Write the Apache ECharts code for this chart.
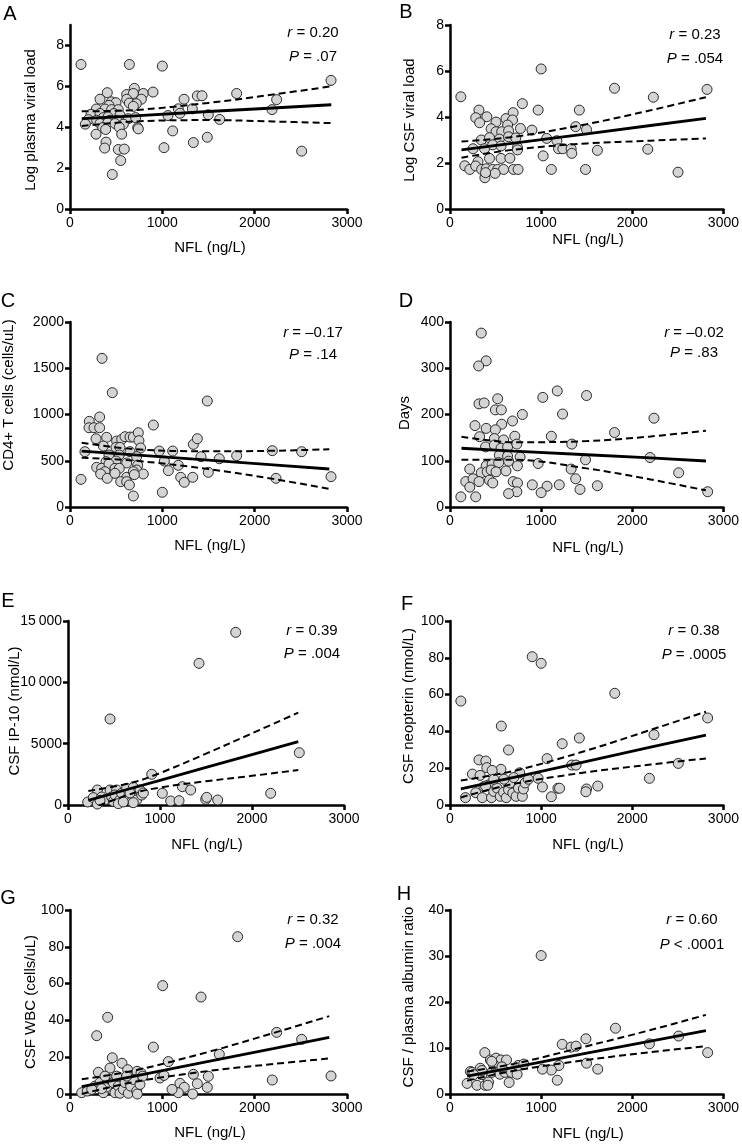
<!DOCTYPE html>
<html><head><meta charset="utf-8">
<script src="https://cdn.jsdelivr.net/npm/echarts@6/dist/echarts.min.js"></script>
<style>html,body{margin:0;padding:0;background:#fff}#c{width:742px;height:1144px}</style>
</head><body><div id="c"></div>
<script>
// ---------- DATA ----------
const nflTicks = [0, 1000, 2000, 3000];

const ptsA = [[119,7.07],[643,7.07],[1000,6.99],[697,5.9],[404,5.69],[614,5.6],[686,5.65],[794,5.65],[899,5.72],[325,5.37],[614,5.37],[773,5.37],[448,5.24],[498,5.2],[643,5.18],[718,5.15],[422,5.07],[686,5.02],[285,4.89],[379,4.89],[451,4.86],[523,4.86],[227,4.63],[325,4.67],[476,4.67],[541,4.59],[361,4.47],[411,4.5],[199,4.37],[289,4.34],[433,4.34],[505,4.34],[632,4.42],[711,4.47],[166,4.15],[325,4.18],[408,4.21],[487,4.18],[578,4.15],[354,3.98],[534,4.0],[733,3.98],[740,3.92],[282,3.66],[386,3.89],[560,3.66],[390,3.27],[375,2.98],[523,2.91],[588,2.93],[549,2.37],[458,1.69],[1018,3.0],[1112,3.82],[1235,5.37],[1173,4.9],[1191,4.68],[1336,3.25],[1325,4.9],[1379,5.53],[1430,5.54],[1487,3.51],[1498,4.61],[1621,4.38],[1805,5.65],[2188,4.86],[2238,5.35],[2509,2.83],[2827,6.29],[1061,4.57]];
const fitXA = [127, 700, 1500, 2200, 2830];
const fitA  = [4.42, 4.56, 4.77, 4.94, 5.1];
const upA   = [4.78, 4.84, 5.19, 5.6, 6.0];
const loA   = [4.06, 4.28, 4.35, 4.28, 4.2];
const yTicksA = [0, 2, 4, 6, 8];

const ptsB = [[1000,6.09],[119,4.88],[1805,5.25],[794,4.58],[318,4.3],[282,3.97],[404,4.01],[325,3.75],[693,4.19],[614,3.93],[686,3.87],[967,4.3],[1419,4.3],[505,3.78],[632,3.65],[451,3.49],[773,3.5],[899,3.43],[505,3.36],[567,3.36],[643,3.4],[1379,3.58],[1498,3.45],[343,3.0],[433,3.1],[541,3.04],[643,3.14],[722,3.09],[1061,3.07],[1173,2.97],[253,2.62],[379,2.62],[469,2.79],[560,2.74],[740,2.68],[740,2.57],[1191,2.62],[1238,2.62],[1329,2.62],[1336,2.42],[1617,2.55],[433,2.2],[560,2.2],[657,2.21],[1022,2.31],[307,2.06],[162,1.88],[217,1.72],[282,1.87],[347,1.72],[397,1.75],[469,1.72],[523,1.72],[588,1.72],[697,1.72],[747,1.72],[1112,1.72],[1487,1.72],[383,1.36],[495,1.55],[390,1.58],[2170,2.6],[2231,4.86],[2502,1.6],[2820,5.2]];
const fitXB = [126, 700, 1500, 2200, 2808];
const fitB  = [2.57, 2.86, 3.27, 3.63, 3.94];
const upB   = [2.93, 3.14, 3.69, 4.29, 4.86];
const loB   = [2.23, 2.58, 2.85, 2.97, 3.07];
const yTicksB = [0, 2, 4, 6, 8];

const ptsC = [[347,1607],[458,1236],[1487,1146],[321,973],[209,926],[206,857],[260,857],[321,857],[903,886],[282,738],[397,753],[505,713],[560,731],[596,760],[650,756],[686,756],[740,803],[747,717],[498,645],[361,659],[765,638],[1336,677],[1379,738],[541,645],[162,598],[650,598],[967,605],[1112,605],[1419,544],[1617,522],[1805,555],[422,562],[534,562],[722,544],[390,490],[498,497],[614,476],[733,451],[1022,497],[1173,451],[289,429],[343,418],[422,465],[487,418],[534,418],[379,382],[722,400],[794,357],[1065,393],[332,357],[404,310],[487,364],[614,321],[686,382],[697,350],[1498,375],[119,299],[549,274],[614,274],[643,238],[686,119],[1000,159],[1199,321],[1238,267],[1329,321],[2191,609],[2231,310],[2509,598],[2827,328]];
const fitXC = [126, 700, 1500, 2200, 2808];
const fitC  = [605, 563, 506, 456, 411];
const upC   = [695, 625, 602, 608, 624];
const loC   = [533, 501, 410, 304, 195];
const yTicksC = [0, 500, 1000, 1500, 2000];

const ptsD = [[343,376],[397,316],[314,305],[318,223],[375,225],[523,234],[498,210],[563,210],[794,200],[1018,237],[1177,251],[1498,241],[1235,201],[274,176],[397,170],[567,179],[686,186],[498,167],[325,152],[487,148],[588,145],[711,153],[1112,153],[1805,161],[390,130],[487,134],[560,127],[632,130],[733,136],[1336,136],[541,112],[632,110],[769,108],[643,99],[397,89],[462,93],[534,96],[740,89],[967,94],[1487,102],[217,82],[343,74],[408,76],[451,80],[505,76],[614,78],[173,55],[253,61],[318,55],[433,58],[469,52],[693,55],[740,52],[217,43],[903,48],[1065,45],[1199,48],[1379,61],[1329,82],[1426,38],[1617,46],[733,33],[643,29],[1000,31],[119,22],[282,22],[2195,107],[2238,192],[2509,74],[2827,33]];
const fitXD = [126, 700, 1500, 2200, 2808];
const fitD  = [127, 121, 113, 106, 99.5];
const upD   = [152, 140, 142.5, 152.5, 165];
const loD   = [102, 102, 83.5, 59.5, 36];
const yTicksD = [0, 100, 200, 300, 400];

const ptsE = [[457,7009],[1424,11549],[1823,14075],[910,2502],[2514,4264],[2203,951],[1243,1494],[1333,1222],[1025,951],[1116,326],[1207,353],[1497,462],[1508,625],[1627,408],[319,1222],[214,245],[275,598],[319,81],[366,652],[402,435],[457,1222],[475,652],[493,299],[529,1222],[511,815],[565,408],[583,951],[638,1358],[656,652],[692,245],[710,1440],[728,951],[746,408],[782,1222],[801,815],[710,190],[547,109],[348,380],[601,245],[674,978],[819,978]];
const fitXE = [221, 700, 1000, 1500, 2000, 2503];
const fitE  = [380, 1384, 2013, 3061, 4109, 5162];
const upE   = [1141, 1830, 2603, 4183, 5841, 7525];
const loE   = [-381, 938, 1423, 1939, 2377, 2850];
const yTicksE = [0, 5000, 10000, 15000];
const yLabelsE = ['0', '5000', '10\u2009000', '15\u2009000'];

const ptsF = [[119,56.5],[902,80.6],[1000,77],[1808,60.7],[2827,47.3],[2238,38.2],[2505,22.6],[2188,14.5],[1419,36.4],[1231,33.3],[1065,25.2],[1336,21.7],[1383,21.7],[967,14.5],[1014,9.8],[1112,4.5],[1184,9.1],[1202,9.1],[1498,8.7],[1491,7.2],[1621,10.3],[563,42.9],[642,29.9],[318,24.5],[393,23.9],[404,20.3],[559,19.4],[246,16.8],[330,16.1],[462,18.8],[765,17.5],[170,4],[282,6.7],[354,4],[372,10],[426,11],[455,4],[480,7.4],[516,9.2],[552,4.7],[588,6.9],[617,4],[642,8.3],[660,12],[689,6.5],[725,4.7],[751,9.2],[794,4.7],[805,8.7],[823,12],[859,14],[700,14.9],[592,14],[480,14],[390,10.3]];
const fitXF = [119, 700, 1500, 2200, 2808];
const fitF  = [8.7, 15.0, 23.7, 31.4, 38];
const upF   = [13.3, 18.5, 29.6, 40.8, 50.7];
const loF   = [4.1, 11.5, 17.8, 22.0, 25.3];
const yTicksF = [0, 20, 40, 60, 80, 100];

const ptsG = [[1816,85.5],[1004,58.9],[1419,52.7],[408,41.7],[289,31.7],[2238,33.5],[2509,29.7],[903,25.5],[1617,21.6],[1065,17.6],[458,19.7],[563,16.7],[2191,7.6],[2827,9.8],[1498,9.6],[1487,3.6],[1336,10.7],[1379,5.6],[1191,5.8],[1238,3.6],[1173,0.7],[1105,2.5],[1329,0],[975,8.7],[1018,10.1],[127,0.7],[307,11.8],[433,14.1],[625,13.2],[726,12.3],[769,11.4],[188,1.6],[271,4.3],[325,6.2],[361,0.7],[397,3.8],[433,7.9],[469,6.2],[487,0.7],[523,4.3],[541,0.4],[578,2.5],[596,6.2],[632,0.4],[657,4.3],[686,7.9],[722,1.6],[729,0],[758,5.2],[787,9.7],[505,9.7],[379,9.7],[235,2.5],[343,2.9],[614,9.7]];
const fitXG = [127, 700, 1500, 2200, 2808];
const fitG  = [4, 9.7, 17.7, 24.7, 30.8];
const upG   = [8, 12.8, 22.9, 33.1, 42.3];
const loG   = [0, 6.6, 12.5, 16.3, 19.3];
const yTicksG = [0, 20, 40, 60, 80, 100];

const ptsH = [[1000,30.1],[1816,14.3],[2509,12.6],[2188,10.9],[2827,9.0],[1491,12.0],[1231,10.8],[1329,10.2],[1383,10.4],[1498,6.7],[1621,5.4],[1195,6.2],[1112,5.2],[1014,5.4],[1177,3.0],[382,9.0],[443,7.4],[505,7.8],[559,7.4],[620,7.4],[188,2.3],[224,4.9],[296,1.9],[332,5.6],[386,1.9],[422,2.6],[415,1.9],[350,4.2],[458,4.7],[512,5.4],[548,4.3],[602,4.7],[649,2.5],[675,4.7],[736,4.3],[747,6.2],[809,6.5],[350,5.1],[476,6.5],[570,5.9],[242,4.7],[260,4.2],[458,7.1]];
const fitXH = [188, 700, 1500, 2200, 2808];
const fitH  = [3.9, 5.8, 8.9, 11.5, 13.8];
const upH   = [4.9, 6.55, 10.4, 13.9, 17.2];
const loH   = [2.9, 5.05, 7.4, 9.1, 10.4];
const yTicksH = [0, 10, 20, 30, 40];

const letters = ['A','B','C','D','E','F','G','H'];
const yTitles = ['Log plasma viral load','Log CSF viral load','CD4+ T cells (cells/uL)','Days','CSF IP-10 (nmol/L)','CSF neopterin (nmol/L)','CSF WBC (cells/uL)','CSF / plasma albumin ratio'];
const xTitle = 'NFL (ng/L)';
const rTexts = ['0.20','0.23','\u20130.17','\u20130.02','0.39','0.38','0.32','0.60'];
const pTexts = ['= .07','= .054','= .14','= .83','= .004','= .0005','= .004','< .0001'];

// ---------- LAYOUT ----------
const FONT = '"Liberation Sans", Arial, Helvetica, sans-serif';
const panels = [
  {pts:ptsA, fx:fitXA, fit:fitA, up:upA, lo:loA, ticks:yTicksA, ymax:9,
   grid:{left:70,top:25,width:277,height:184}, letter:[10,14], ytl:[31,120], xtl:[210,248], stat:[313,33,57]},
  {pts:ptsB, fx:fitXB, fit:fitB, up:upB, lo:loB, ticks:yTicksB, ymax:8,
   grid:{left:450,top:25,width:277,height:184}, letter:[406,12], ytl:[410,120], xtl:[588,240], stat:[695,35,59]},
  {pts:ptsC, fx:fitXC, fit:fitC, up:upC, lo:loC, ticks:yTicksC, ymax:2000,
   grid:{left:70,top:322,width:277,height:185}, letter:[8,301], ytl:[9,395], xtl:[210,546], stat:[313,333,355]},
  {pts:ptsD, fx:fitXD, fit:fitD, up:upD, lo:loD, ticks:yTicksD, ymax:400,
   grid:{left:450,top:322,width:277,height:185}, letter:[406,301], ytl:[405,413], xtl:[588,548], stat:[694,333,353]},
  {pts:ptsE, fx:fitXE, fit:fitE, up:upE, lo:loE, ticks:yTicksE, labels:yLabelsE, ymax:15000,
   grid:{left:68,top:621,width:276,height:184}, letter:[8,601], ytl:[15,711], xtl:[207,845], stat:[312,631,654]},
  {pts:ptsF, fx:fitXF, fit:fitF, up:upF, lo:loF, ticks:yTicksF, ymax:100,
   grid:{left:450,top:621,width:277,height:184}, letter:[407,604], ytl:[409,706], xtl:[588,845], stat:[694,631,655]},
  {pts:ptsG, fx:fitXG, fit:fitG, up:upG, lo:loG, ticks:yTicksG, ymax:100,
   grid:{left:70,top:910,width:277,height:184}, letter:[8,898], ytl:[31,1002], xtl:[210,1133], stat:[313,920,944]},
  {pts:ptsH, fx:fitXH, fit:fitH, up:upH, lo:loH, ticks:yTicksH, ymax:40,
   grid:{left:450,top:910,width:277,height:184}, letter:[404,894], ytl:[409,997], xtl:[588,1134], stat:[692,920,945]}
];

const axisLineStyle = {color:'#000', width:2.5};
const grids = [], xAxes = [], yAxes = [], series = [], graphics = [];

panels.forEach((p, i) => {
  grids.push(Object.assign({containLabel:false}, p.grid));
  xAxes.push({
    type:'value', gridIndex:i, min:0, max:3000, interval:1000,
    axisLine:{show:true, onZero:false, lineStyle:axisLineStyle},
    axisTick:{show:true, length:5, lineStyle:axisLineStyle, customValues:nflTicks},
    axisLabel:{color:'#000', fontSize:14, fontFamily:FONT, margin:7, customValues:nflTicks,
      formatter: v => String(v)},
    splitLine:{show:false}
  });
  const lab = p.labels;
  yAxes.push({
    type:'value', gridIndex:i, min:0, max:p.ymax,
    axisLine:{show:true, onZero:false, lineStyle:axisLineStyle},
    axisTick:{show:true, length:5, lineStyle:axisLineStyle, customValues:p.ticks},
    axisLabel:{color:'#000', fontSize:14, fontFamily:FONT, margin:6, customValues:p.ticks,
      formatter: v => lab ? lab[p.ticks.indexOf(v)] : String(v)},
    splitLine:{show:false}
  });
  series.push({
    type:'scatter', xAxisIndex:i, yAxisIndex:i, data:p.pts, symbolSize:10, z:2,
    itemStyle:{color:'#d4d4d4', borderColor:'#2a2a2a', borderWidth:1, opacity:1},
    silent:true, animation:false
  });
  const mk = (arr, dashed) => ({
    type:'line', xAxisIndex:i, yAxisIndex:i, data:p.fx.map((x, k) => [x, arr[k]]),
    showSymbol:false, symbol:'none', smooth: dashed ? 0.35 : false, z:5, silent:true, animation:false,
    lineStyle: dashed ? {color:'#000', width:2, type:[7,4]} : {color:'#000', width:2.8}
  });
  series.push(mk(p.fit, false), mk(p.up, true), mk(p.lo, true));

  graphics.push({type:'text', x:p.letter[0], y:p.letter[1], style:{text:letters[i], font:'20px ' + FONT, fill:'#000', align:'center', verticalAlign:'middle'}});
  graphics.push({type:'text', x:p.ytl[0], y:p.ytl[1], rotation:Math.PI/2, style:{text:yTitles[i], font:'15px ' + FONT, fill:'#000', align:'center', verticalAlign:'middle'}});
  graphics.push({type:'text', x:p.xtl[0], y:p.xtl[1], style:{text:xTitle, font:'15px ' + FONT, fill:'#000', align:'center', verticalAlign:'middle'}});
  graphics.push({type:'text', x:p.stat[0], y:p.stat[1], style:{text:'{i|r} = ' + rTexts[i], font:'15px ' + FONT, fill:'#000', align:'center', verticalAlign:'middle',
    rich:{i:{fontStyle:'italic', fontSize:15, fontFamily:FONT}}}});
  graphics.push({type:'text', x:p.stat[0], y:p.stat[2], style:{text:'{i|P} ' + pTexts[i], font:'15px ' + FONT, fill:'#000', align:'center', verticalAlign:'middle',
    rich:{i:{fontStyle:'italic', fontSize:15, fontFamily:FONT}}}});
});

const chart = echarts.init(document.getElementById('c'), null, {renderer:'canvas'});
chart.setOption({
  backgroundColor:'#fff', animation:false,
  grid:grids, xAxis:xAxes, yAxis:yAxes, series:series, graphic:graphics
});
</script></body></html>
